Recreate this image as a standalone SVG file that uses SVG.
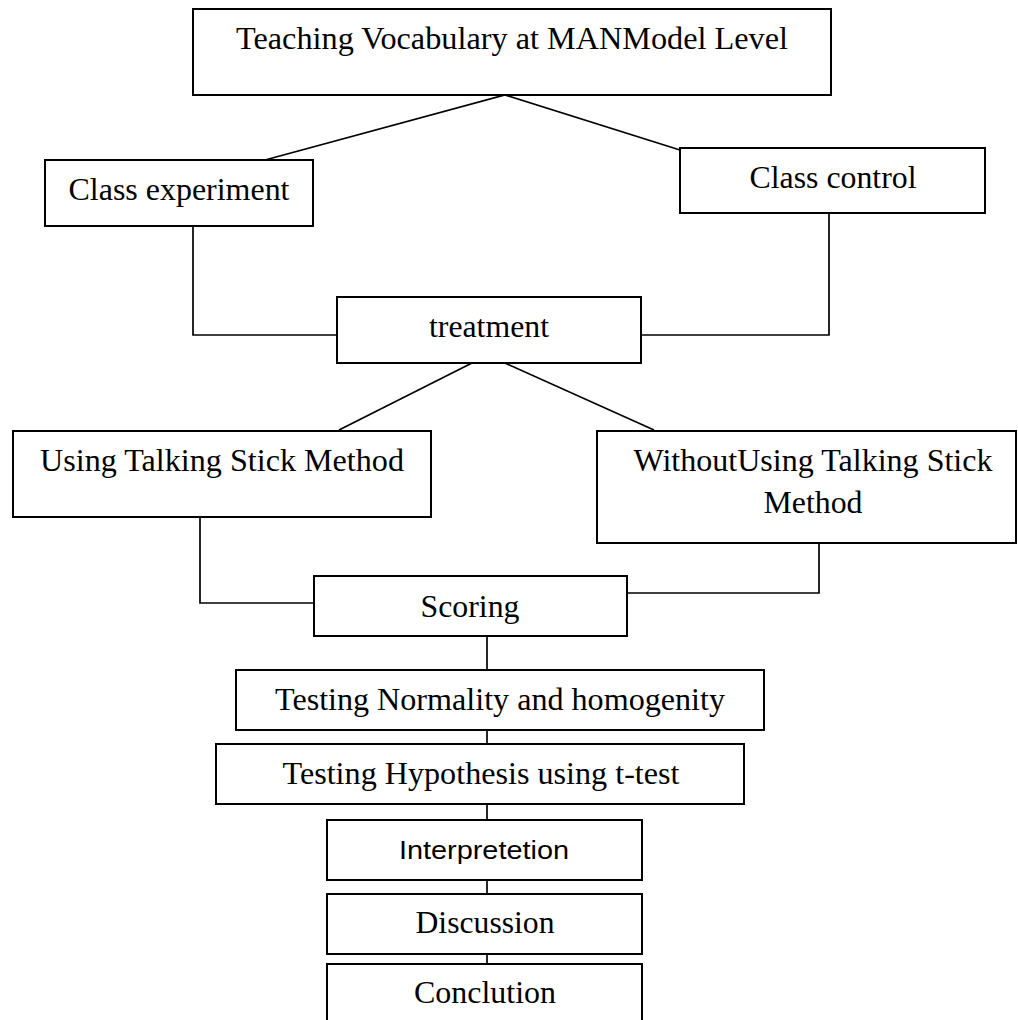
<svg xmlns="http://www.w3.org/2000/svg" width="1018" height="1020" viewBox="0 0 1018 1020">
<style>
.box{fill:#fff;stroke:#000;stroke-width:2}
.t{font-family:"Liberation Serif","Times New Roman",serif;font-size:32px;fill:#000;text-anchor:middle}
.s{font-family:"Liberation Sans",Arial,sans-serif;font-size:25px;fill:#000;text-anchor:middle}
.c{fill:none;stroke:#000;stroke-width:1.7}
</style>
<rect width="1018" height="1020" fill="#fff"/>
<g id="connectors">
<polyline class="c" points="265,160 505,95 680,150"/>
<polyline class="c" points="193,226 193,335 337,335"/>
<polyline class="c" points="829,213 829,335 641,335"/>
<line class="c" x1="472" y1="363" x2="339" y2="430"/>
<line class="c" x1="505" y1="363" x2="654" y2="430"/>
<line class="c" x1="182" y1="517" x2="200" y2="517" stroke-width="3"/>
<polyline class="c" points="200,517 200,603 314,603"/>
<line class="c" x1="763" y1="543" x2="819" y2="543" stroke-width="3"/>
<polyline class="c" points="819,543 819,593 627,593"/>
<line class="c" x1="487" y1="636" x2="487" y2="670"/>
<line class="c" x1="487" y1="730" x2="487" y2="744"/>
<line class="c" x1="487" y1="804" x2="487" y2="820"/>
<line class="c" x1="487" y1="880" x2="487" y2="894"/>
<line class="c" x1="487" y1="954" x2="487" y2="964"/>
</g>
<g id="n-top"><rect class="box" x="193" y="9" width="638" height="86"/><text class="t" x="512" y="49" textLength="552" lengthAdjust="spacingAndGlyphs">Teaching Vocabulary at MANModel Level</text></g>
<g id="n-exp"><rect class="box" x="45" y="160" width="268" height="66"/><text class="t" x="179" y="200" font-size="34" textLength="221" lengthAdjust="spacingAndGlyphs">Class experiment</text></g>
<g id="n-ctrl"><rect class="box" x="680" y="148" width="305" height="65"/><text class="t" x="833" y="188" font-size="33" textLength="167" lengthAdjust="spacingAndGlyphs">Class control</text></g>
<g id="n-treat"><rect class="box" x="337" y="297" width="304" height="66"/><text class="t" x="489" y="337" textLength="120" lengthAdjust="spacingAndGlyphs">treatment</text></g>
<g id="n-using"><rect class="box" x="13" y="431" width="418" height="86"/><text class="t" x="222" y="471" textLength="364" lengthAdjust="spacingAndGlyphs">Using Talking Stick Method</text></g>
<g id="n-without"><rect class="box" x="597" y="431" width="419" height="112"/><text class="t" x="813" y="471" textLength="359" lengthAdjust="spacingAndGlyphs">WithoutUsing Talking Stick</text><text class="t" x="813" y="513" textLength="99" lengthAdjust="spacingAndGlyphs">Method</text></g>
<g id="n-scoring"><rect class="box" x="314" y="576" width="313" height="60"/><text class="t" x="470" y="617" textLength="99" lengthAdjust="spacingAndGlyphs">Scoring</text></g>
<g id="n-normality"><rect class="box" x="236" y="670" width="528" height="60"/><text class="t" x="500" y="710" textLength="450" lengthAdjust="spacingAndGlyphs">Testing Normality and homogenity</text></g>
<g id="n-hypothesis"><rect class="box" x="216" y="744" width="528" height="60"/><text class="t" x="481" y="784" textLength="397" lengthAdjust="spacingAndGlyphs">Testing Hypothesis using t-test</text></g>
<g id="n-interp"><rect class="box" x="327" y="820" width="315" height="60"/><text class="s" x="484" y="859" textLength="170" lengthAdjust="spacingAndGlyphs">Interpretetion</text></g>
<g id="n-disc"><rect class="box" x="327" y="894" width="315" height="60"/><text class="t" x="485" y="933" textLength="139" lengthAdjust="spacingAndGlyphs">Discussion</text></g>
<g id="n-concl"><rect class="box" x="327" y="964" width="315" height="70"/><text class="t" x="485" y="1003" textLength="142" lengthAdjust="spacingAndGlyphs">Conclution</text></g>
</svg>
